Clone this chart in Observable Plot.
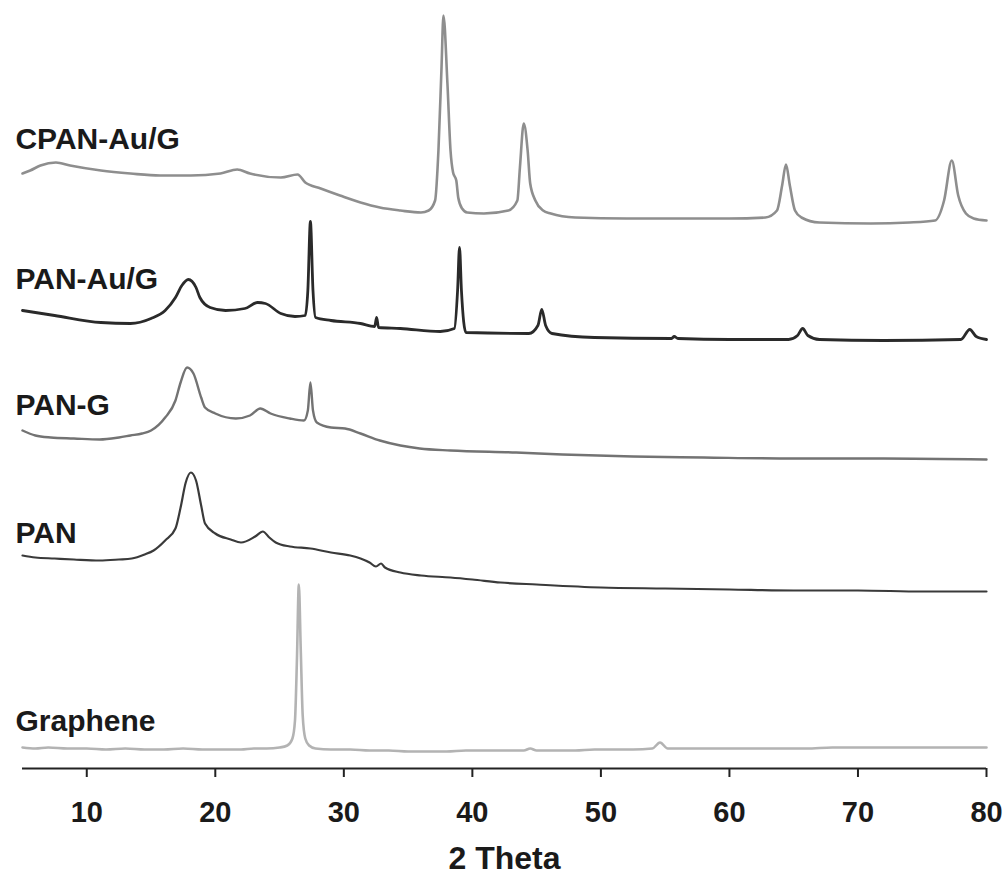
<!DOCTYPE html>
<html><head><meta charset="utf-8">
<script src="https://cdn.jsdelivr.net/npm/d3@7"></script>
<script src="https://cdn.jsdelivr.net/npm/@observablehq/plot@0.6"></script>
<style>body{margin:0;background:#fff}#chart svg{display:block}</style>
</head><body><div id="chart"></div>
<script>
// Series names (bottom to top), vertical stacking offsets (a.u.) and colours
const seriesNames = ["Graphene", "PAN", "PAN-G", "PAN-Au/G", "CPAN-Au/G"];
const seriesOffsets = [0, 170, 300, 420, 540];
const seriesColors = ["#b3b3b3", "#3a3a3a", "#737373", "#2a2a2a", "#8e8e8e"];
const xTicks = [10, 20, 30, 40, 50, 60, 70, 80];

// [2θ, intensity a.u.]
const graphene = [[5,21],[6,20],[7,21],[8.5,20],[10,20],[11.5,19],[13,20],[14.5,19],[16,19],[17.5,20],[19,19],[20.5,19],[22,19],[23,20],[24,20],[25,21],[25.6,23],[26.0,30],[26.2,48],[26.35,108],[26.5,184],[26.65,118],[26.8,53],[27.0,30],[27.3,23],[27.8,20],[29,19],[30.5,19],[32,18],[33.5,18],[35,17],[36.5,17],[38,17],[39.5,18],[41,18],[42.5,18],[44,18],[44.5,20],[45,18],[46.5,18],[48,18],[49.5,19],[51,19],[52.5,19],[54,20],[54.6,26],[55.2,20],[56.5,20],[58,20],[60,20],[62,20],[64,20],[66,20],[68,21],[70,21],[72,21],[74,21],[76,21],[78,21],[80,21]];
const pan = [[5,43],[6,41],[7.5,40],[9,39],[11,38],[12.5,39],[13.5,40],[14.5,44],[15.2,48],[16.1,58],[16.9,70],[17.3,91],[17.7,116],[18.1,126],[18.5,118],[18.9,93],[19.2,75],[20.0,65],[21.2,59],[22.0,56],[23.1,62],[23.7,67],[24.2,61],[24.7,56],[25.8,52],[27.4,50],[29.0,46],[30.5,43],[31.3,40],[32.0,36],[32.5,32],[32.9,35],[33.2,31],[34.4,26],[36,23],[38.3,21],[40,19],[42.2,16],[45,14],[50,11],[55,10],[60,9],[65,8],[70,8],[75,7],[80,7]];
const panG = [[5,38],[6,33],[7.2,31],[9,30],[11,29],[12.5,31],[13.4,33],[14.3,35],[15.0,38],[16.1,51],[16.9,68],[17.3,86],[17.8,101],[18.3,95],[18.9,71],[19.2,61],[20.0,55],[21.6,50],[22.7,53],[23.5,60],[24.3,55],[25.8,50],[26.9,48],[27.2,58],[27.4,86],[27.6,58],[27.9,46],[29.0,41],[30.1,40],[31.3,35],[32.8,28],[34.4,23],[35.9,20],[38.3,18],[43.4,16],[47,14],[52.5,12],[58,11],[65,10],[72,10],[80,9]];
const panAuG = [[5,38],[7.5,33],[11.1,26],[13.4,25],[15.0,30],[16.1,38],[16.9,51],[17.4,63],[17.9,69],[18.5,61],[18.8,51],[19.6,41],[20.8,38],[22.3,40],[23.3,46],[23.9,45],[25.1,35],[26.2,32],[27.0,33],[27.2,58],[27.4,127],[27.6,58],[27.8,31],[29.0,28],[31.3,25],[32.4,22],[32.55,31],[32.7,21],[34.4,20],[37.5,17],[38.6,20],[38.85,58],[39.0,101],[39.15,58],[39.5,16],[44.4,15],[45.1,23],[45.4,39],[45.7,23],[46.2,15],[49.5,11],[55.5,10],[55.7,12],[56,10],[60,9],[64.6,9],[65.3,13],[65.7,20],[66.1,13],[67,9],[72,8],[78,9],[78.7,19],[79.2,12],[80,9]];
const cpanAuG = [[5,55],[5.6,58],[6.4,63],[7.6,66],[8.7,63],[11.1,58],[13.4,55],[15.7,53],[18.1,53],[20.4,55],[21.7,59],[22.7,55],[25.1,51],[26.4,54],[27.0,46],[28.2,40],[29.7,33],[31.3,26],[32.8,21],[34.4,18],[36.0,16],[36.6,18],[37.1,28],[37.36,78],[37.6,161],[37.75,213],[38.06,145],[38.3,78],[38.5,56],[38.75,48],[38.9,31],[39.2,20],[39.6,16],[40.9,15],[42.8,18],[43.5,28],[43.7,61],[44.0,105],[44.3,78],[44.5,45],[44.9,28],[45.5,18],[46.1,15],[48,11],[52,10],[55.6,10],[60,10],[62.8,11],[63.7,18],[64.1,43],[64.4,64],[64.7,43],[65.1,18],[65.6,11],[67,6],[71,5],[74,6],[76.0,8],[76.7,28],[77.3,68],[77.8,33],[78.4,15],[79,10],[80,8]];
const seriesData = [graphene, pan, panG, panAuG, cpanAuG];
const seriesWidths = [2.6, 2.2, 2.4, 2.8, 2.6];

const rows = seriesData.flatMap((s, i) => s.map(([theta, v]) => ({name: seriesNames[i], theta, y: v + seriesOffsets[i]})));

// label annotations: lifted above each trace's left end
const labelLift = [26, 22, 25, 31, 34];
const labels = seriesNames.map((name, i) => ({name, theta: 4.45, y: seriesOffsets[i] + seriesData[i][0][1] + labelLift[i]}));

const font = "'Liberation Sans', Arial, Helvetica, sans-serif";
const chart = Plot.plot({
  width: 1006, height: 883,
  marginLeft: 22, marginRight: 20, marginTop: 0, marginBottom: 115,
  style: {fontFamily: font, background: "#fff", color: "#1a1a1a"},
  x: {domain: [5, 80]},
  y: {domain: [0, 768], axis: null},
  color: {domain: seriesNames, range: seriesColors},
  marks: [
    ...seriesNames.map((name, i) => Plot.line(rows.filter(d => d.name === name), {x: "theta", y: "y", stroke: "name", strokeWidth: seriesWidths[i], strokeLinejoin: "round", curve: "monotone-x"})),
    Plot.ruleY([0], {x1: 5, x2: 80, stroke: "#222", strokeWidth: 2}),
    Plot.axisX({ticks: xTicks, tickSize: 9, tickPadding: 24, tickFormat: d => String(d), fontSize: 29, fontWeight: "bold", stroke: "#222", strokeWidth: 2, fill: "#1a1a1a", label: null}),
    Plot.text(labels, {x: "theta", y: "y", text: "name", textAnchor: "start", fontSize: 30, fontWeight: "bold", fill: "#1a1a1a"}),
    Plot.text(["2 Theta"], {frameAnchor: "bottom", dy: 100, fontSize: 32, fontWeight: "bold", fill: "#1a1a1a"})
  ]
});
document.getElementById("chart").appendChild(chart);
</script>
</body></html>
